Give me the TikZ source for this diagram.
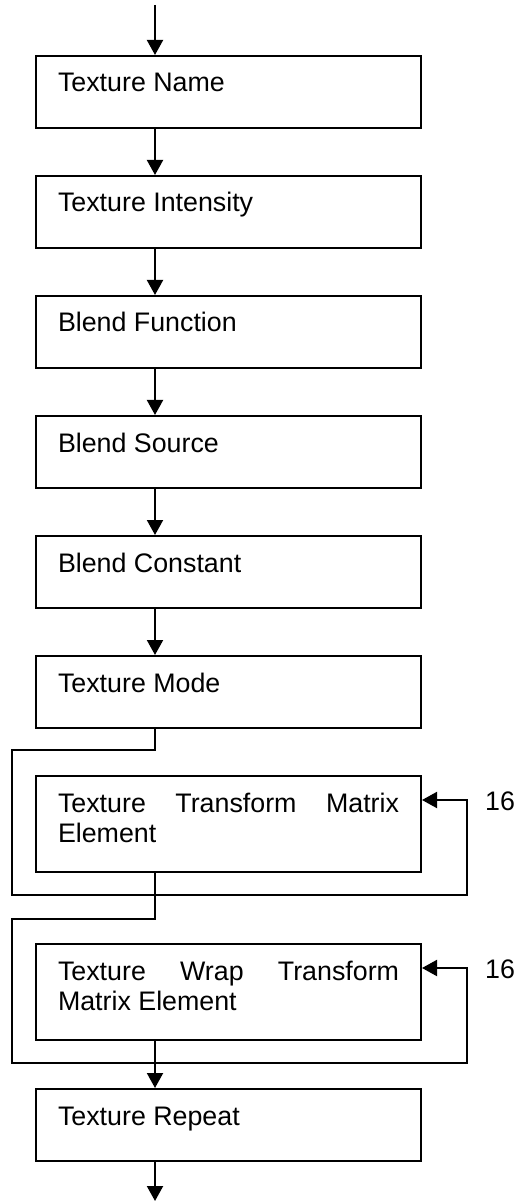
\documentclass[tikz,border=0pt]{standalone}
\usepackage{fontspec}
\setmainfont{Liberation Sans}
\usetikzlibrary{arrows.meta}
\tolerance=10000
\hyphenpenalty=10000

\begin{document}
\begin{tikzpicture}[
  x=0.5pt,y=-0.5pt,
  field/.style={draw,line width=1pt,anchor=north west,text width=170.5pt,align=justify,
    inner xsep=11pt,inner ysep=5pt,text height=13pt,text depth=13pt,
    font=\fontsize{13.4}{15}\selectfont},
  tall/.style={text depth=25pt},
  flow/.style={-{Triangle[length=7.5pt,width=8pt]},line width=1pt},
  count/.style={font=\fontsize{13.4}{15}\selectfont}
]
  \useasboundingbox (0,0) rectangle (520,1202);

  \node[field] (name) at (35,55) {Texture Name};
  \node[field] (inten) at (35,175) {Texture Intensity};
  \node[field] (func) at (35,295) {Blend Function};
  \node[field] (src) at (35,415) {Blend Source};
  \node[field] (const) at (35,535) {Blend Constant};
  \node[field] (mode) at (35,655) {Texture Mode};
  \node[field,tall] (ttm) at (35,775) {Texture Transform Matrix Element};
  \node[field,tall] (twtm) at (35,943) {Texture Wrap Transform Matrix Element};
  \node[field] (rep) at (35,1088) {Texture Repeat};

  \node[count] (cnt1) at (500,801) {16};
  \node[count] (cnt2) at (500,969) {16};

  \coordinate (top) at (155,5);
  \coordinate (bot) at (155,1201);
  \coordinate (ret1) at (467,800);
  \coordinate (ret2) at (467,968);

  \draw[flow] (top) -- (top |- name.north);
  \draw[flow] (name.south -| top) -- (inten.north -| top);
  \draw[flow] (inten.south -| top) -- (func.north -| top);
  \draw[flow] (func.south -| top) -- (src.north -| top);
  \draw[flow] (src.south -| top) -- (const.north -| top);
  \draw[flow] (const.south -| top) -- (mode.north -| top);

  % repeat loops
  \draw[flow] (mode.south -| top) |- (12,750) -- (12,895) -| (ret1) -- (ret1 -| ttm.east);
  \draw[flow] (ttm.south -| top) |- (12,919) -- (12,1063) -| (ret2) -- (ret2 -| twtm.east);

  \draw[flow] (twtm.south -| top) -- (rep.north -| top);
  \draw[flow] (rep.south -| top) -- (bot);
\end{tikzpicture}
\end{document}
